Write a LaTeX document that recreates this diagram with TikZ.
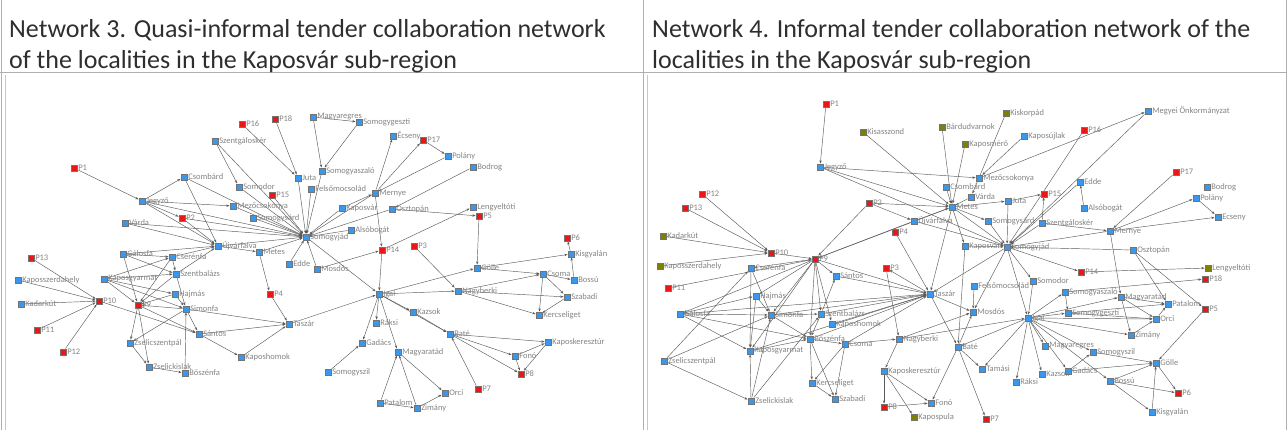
\documentclass[tikz,border=0pt]{standalone}
\usepackage{fontspec}
\setmainfont{Carlito}
\usetikzlibrary{arrows.meta}
\definecolor{nblue}{RGB}{58,152,236}
\definecolor{nred}{RGB}{236,22,22}
\definecolor{nolive}{RGB}{128,128,0}
\definecolor{edgec}{RGB}{90,90,90}
\definecolor{labc}{RGB}{132,132,132}
\definecolor{tablec}{RGB}{175,175,175}
\definecolor{framec}{RGB}{200,200,200}
\pgfdeclarelayer{edges}
\pgfsetlayers{edges,main}
\tikzset{
  nd/.style={rectangle, minimum size=6.5pt, inner sep=0pt, draw=black!55, line width=0.4pt},
  bn/.style={nd, fill=nblue},
  rn/.style={nd, fill=nred},
  on/.style={nd, fill=nolive},
  lbl/.style={font=\fontsize{8.5}{9}\selectfont, text=labc, inner sep=0.6pt, anchor=west},
  edge/.style={draw=edgec, line width=0.45pt, -{Stealth[length=3.2pt,width=2.4pt]}},
  hdr/.style={font=\fontsize{26}{28}\selectfont, text=black!82, inner sep=0pt, anchor=base west},
  tline/.style={draw=tablec, line width=1pt},
  fline/.style={draw=framec, line width=1.5pt}
}
\newcommand\gnode[5]{\node[#2] (#1) at (#3,#4) {}; \node[lbl] (#1-t) at (#1.east) {#5};}
\begin{document}
\begin{tikzpicture}[x=1pt,y=-1pt]
\useasboundingbox (0,0) rectangle (1287,430);
% table
\draw[tline] (0,73) -- (1287,73);
\draw[tline] (1,0) -- (1,430);
\draw[tline] (643,0) -- (643,430);
\draw[tline] (1286,0) -- (1286,430);
\draw[fline] (5.5,75) -- (5.5,430);
\draw[fline] (647.5,75) -- (647.5,430);
\node[hdr] (h3a) at (9,38) {Network 3. Quasi-informal tender collaboration network};
\node[hdr] (h3b) at (9,69) {of the localities in the Kaposvár sub-region};
\node[hdr] (h4a) at (652,38) {Network 4. Informal tender collaboration network of the};
\node[hdr] (h4b) at (652,69) {localities in the Kaposvár sub-region};

% ---------- Network 3 ----------
\gnode{aP1}{rn}{74}{168}{P1}
\gnode{aJeg}{bn}{142}{201}{Jegyző}
\gnode{aCsom}{bn}{184}{177}{Csombárd}
\gnode{aP2}{rn}{182}{218}{P2}
\gnode{aVarda}{bn}{125}{223}{Várda}
\gnode{aP16}{rn}{242}{124}{P16}
\gnode{aP18}{rn}{275}{119}{P18}
\gnode{aMagy}{bn}{313}{117}{Magyaregres}
\gnode{aSgesz}{bn}{359}{122}{Somogygeszti}
\gnode{aSzg}{bn}{215}{141}{Szentgáloskér}
\gnode{aEcs}{bn}{393}{136}{Écseny}
\gnode{aP17}{rn}{423}{140}{P17}
\gnode{aSasz}{bn}{322}{171}{Somogyaszaló}
\gnode{aJuta}{bn}{298}{178}{Juta}
\gnode{aSomo}{bn}{239}{187}{Somodor}
\gnode{aP15}{rn}{272}{195}{P15}
\gnode{aFelso}{bn}{311}{189}{Felsőmocsolád}
\gnode{aMern}{bn}{375}{193}{Mernye}
\gnode{aMezo}{bn}{233}{206}{Mezőcsokonya}
\gnode{aKv}{bn}{342}{208}{Kaposvár}
\gnode{aOszt}{bn}{392}{209}{Osztopán}
\gnode{aSsard}{bn}{253}{218}{Somogysárd}
\gnode{aAlso}{bn}{351}{230}{Alsóbogát}
\gnode{aSjad}{bn}{306}{237}{Somogyjád}
\gnode{aUjv}{bn}{218}{246}{Újvárfalva}
\gnode{aMetes}{bn}{259}{252}{Metes}
\gnode{aP14}{rn}{382}{250}{P14}
\gnode{aP3}{rn}{414}{246}{P3}
\gnode{aPol}{bn}{448}{156}{Polány}
\gnode{aBod}{bn}{473}{167}{Bodrog}
\gnode{aLeng}{bn}{473}{207}{Lengyeltóti}
\gnode{aP5}{rn}{479}{216}{P5}
\gnode{aP6}{rn}{567}{238}{P6}
\gnode{aKisg}{bn}{571}{254}{Kisgyalán}
\gnode{aP13}{rn}{31}{258}{P13}
\gnode{aKszd}{bn}{18}{280}{Kaposszerdahely}
\gnode{aKadk}{bn}{21}{304}{Kadarkút}
\gnode{aP11}{rn}{37}{330}{P11}
\gnode{aP12}{rn}{63}{352}{P12}
\gnode{aP10}{rn}{99}{301}{P10}
\gnode{aGal}{bn}{123}{254}{Gálosfa}
\gnode{aCser}{bn}{172}{257}{Cserénfa}
\gnode{aKgy}{bn}{104}{279}{Kaposgyarmat}
\gnode{aSzb}{bn}{176}{274}{Szentbalázs}
\gnode{aHajm}{bn}{175}{294}{Hajmás}
\gnode{aP9}{rn}{138}{305}{P9}
\gnode{aSimf}{bn}{186}{309}{Simonfa}
\gnode{aSant}{bn}{199}{334}{Sántos}
\gnode{aZszp}{bn}{130}{343}{Zselicszentpál}
\gnode{aZsk}{bn}{149}{367}{Zselickislak}
\gnode{aBosz}{bn}{185}{373}{Bőszénfa}
\gnode{aEdde}{bn}{289}{264}{Edde}
\gnode{aMosd}{bn}{317}{269}{Mosdós}
\gnode{aP4}{rn}{270}{294}{P4}
\gnode{aTasz}{bn}{289}{324}{Taszár}
\gnode{aKhom}{bn}{241}{357}{Kaposhomok}
\gnode{aIgal}{bn}{379}{294}{Igal}
\gnode{aKazs}{bn}{413}{312}{Kazsok}
\gnode{aRaksi}{bn}{376}{323}{Ráksi}
\gnode{aGad}{bn}{362}{343}{Gadács}
\gnode{aSszil}{bn}{328}{372}{Somogyszil}
\gnode{aMatad}{bn}{398}{352}{Magyaratád}
\gnode{aPatal}{bn}{380}{403}{Patalom}
\gnode{aZim}{bn}{417}{408}{Zimány}
\gnode{aGolle}{bn}{477}{268}{Gölle}
\gnode{aCsoma}{bn}{543}{274}{Csoma}
\gnode{aBossu}{bn}{574}{280}{Bossú}
\gnode{aNagyb}{bn}{458}{291}{Nagyberki}
\gnode{aSzab}{bn}{567}{297}{Szabadi}
\gnode{aKerc}{bn}{539}{315}{Kercseliget}
\gnode{aBate}{bn}{450}{334}{Baté}
\gnode{aKker}{bn}{548}{342}{Kaposkeresztúr}
\gnode{aFono}{bn}{515}{356}{Fonó}
\gnode{aP8}{rn}{521}{374}{P8}
\gnode{aP7}{rn}{478}{389}{P7}
\gnode{aOrci}{bn}{445}{393}{Orci}

% ---------- Network 4 ----------
\gnode{bP1}{rn}{826}{104}{P1}
\gnode{bJeg}{bn}{820}{167}{Jegyző}
\gnode{bP12}{rn}{702}{194}{P12}
\gnode{bP13}{rn}{685}{208}{P13}
\gnode{bKadk}{on}{663}{236}{Kadarkút}
\gnode{bP10}{rn}{771}{253}{P10}
\gnode{bKisa}{on}{863}{132}{Kisasszond}
\gnode{bBard}{on}{942}{127}{Bárdudvarnok}
\gnode{bKisk}{on}{1006}{113}{Kiskorpád}
\gnode{bKmer}{on}{965}{144}{Kaposmérő}
\gnode{bKujl}{bn}{1024}{136}{Kaposújlak}
\gnode{bMezo}{bn}{979}{178}{Mezőcsokonya}
\gnode{bCsom}{bn}{946}{187}{Csombárd}
\gnode{bVarda}{bn}{971}{197}{Várda}
\gnode{bMetes}{bn}{952}{207}{Metes}
\gnode{bJuta}{bn}{1008}{201}{Juta}
\gnode{bP15}{rn}{1044}{194}{P15}
\gnode{bP2}{rn}{869}{203}{P2}
\gnode{bUjv}{bn}{914}{221}{Újvárfalva}
\gnode{bSsard}{bn}{988}{221}{Somogysárd}
\gnode{bSzg}{bn}{1042}{223}{Szentgáloskér}
\gnode{bP4}{rn}{895}{232}{P4}
\gnode{bKv}{bn}{965}{246}{Kaposvár}
\gnode{bSjad}{bn}{1007}{247}{Somogyjád}
\gnode{bMegy}{bn}{1148}{111}{Megyei Önkormányzat}
\gnode{bP16}{rn}{1084}{130}{P16}
\gnode{bEdde}{bn}{1080}{182}{Edde}
\gnode{bAlso}{bn}{1084}{208}{Alsóbogát}
\gnode{bP17}{rn}{1176}{172}{P17}
\gnode{bBod}{bn}{1207}{187}{Bodrog}
\gnode{bPol}{bn}{1196}{198}{Polány}
\gnode{bEcs}{bn}{1218}{217}{Ecseny}
\gnode{bMern}{bn}{1110}{231}{Mernye}
\gnode{bOszt}{bn}{1133}{250}{Osztopán}
\gnode{bP9}{rn}{815}{259}{P9}
\gnode{bKszd}{on}{660}{266}{Kaposszerdahely}
\gnode{bCser}{bn}{751}{268}{Cserénfa}
\gnode{bP11}{rn}{668}{288}{P11}
\gnode{bSant}{bn}{836}{276}{Sántos}
\gnode{bHajm}{bn}{756}{296}{Hajmás}
\gnode{bGal}{bn}{680}{314}{Gálosfa}
\gnode{bSimf}{bn}{771}{315}{Simonfa}
\gnode{bSzb}{bn}{821}{314}{Szentbalázs}
\gnode{bKhom}{bn}{832}{324}{Kaposhomok}
\gnode{bBosz}{bn}{810}{339}{Bőszénfa}
\gnode{bCsoma}{bn}{845}{344}{Csoma}
\gnode{bKgy}{bn}{750}{351}{Kaposgyarmat}
\gnode{bZszp}{bn}{664}{361}{Zselicszentpál}
\gnode{bKerc}{bn}{812}{383}{Kercseliget}
\gnode{bZsk}{bn}{751}{401}{Zselickislak}
\gnode{bSzab}{bn}{835}{399}{Szabadi}
\gnode{bP3}{rn}{886}{268}{P3}
\gnode{bTasz}{bn}{930}{294}{Taszár}
\gnode{bFelso}{bn}{974}{286}{Felsőmocsolád}
\gnode{bSomo}{bn}{1033}{281}{Somodor}
\gnode{bMosd}{bn}{973}{312}{Mosdós}
\gnode{bIgal}{bn}{1028}{318}{Igal}
\gnode{bNagyb}{bn}{899}{339}{Nagyberki}
\gnode{bBate}{bn}{958}{347}{Baté}
\gnode{bMagy}{bn}{1045}{346}{Magyaregres}
\gnode{bKker}{bn}{884}{371}{Kaposkeresztúr}
\gnode{bTam}{bn}{982}{369}{Tamási}
\gnode{bKazs}{bn}{1042}{374}{Kazsok}
\gnode{bRaksi}{bn}{1016}{382}{Ráksi}
\gnode{bP8}{rn}{884}{407}{P8}
\gnode{bFono}{bn}{931}{403}{Fonó}
\gnode{bKpula}{on}{914}{417}{Kapospula}
\gnode{bP7}{rn}{986}{419}{P7}
\gnode{bP14}{rn}{1081}{272}{P14}
\gnode{bLeng}{on}{1208}{268}{Lengyeltóti}
\gnode{bP18}{rn}{1205}{279}{P18}
\gnode{bSasz}{bn}{1065}{292}{Somogyaszaló}
\gnode{bMatad}{bn}{1121}{297}{Magyaratád}
\gnode{bPatal}{bn}{1168}{304}{Patalom}
\gnode{bSgesz}{bn}{1068}{313}{Somogygeszti}
\gnode{bOrci}{bn}{1156}{319}{Orci}
\gnode{bP5}{rn}{1205}{309}{P5}
\gnode{bZim}{bn}{1131}{335}{Zimány}
\gnode{bSszil}{bn}{1093}{352}{Somogyszil}
\gnode{bGad}{bn}{1068}{371}{Gadács}
\gnode{bGolle}{bn}{1156}{363}{Gölle}
\gnode{bBossu}{bn}{1110}{381}{Bossú}
\gnode{bP6}{rn}{1178}{393}{P6}
\gnode{bKisg}{bn}{1152}{412}{Kisgyalán}

\begin{pgfonlayer}{edges}
\foreach \s/\t in {aP1/aJeg, aJeg/aCsom, aJeg/aP2, aJeg/aUjv, aJeg/aSjad, aJeg/aMezo, aCsom/aSjad, aCsom/aUjv,
  aP2/aUjv, aP2/aSjad, aVarda/aUjv, aVarda/aSjad, aSzg/aSomo, aSzg/aSjad, aP16/aJuta, aP18/aJuta,
  aMagy/aSasz, aMagy/aSgesz, aSgesz/aSasz, aSasz/aSjad, aJuta/aSjad, aSomo/aSjad, aP15/aSjad,
  aFelso/aSjad, aMezo/aSjad, aSsard/aSjad, aKv/aSjad, aAlso/aSjad, aMern/aSjad, aOszt/aSjad,
  aMern/aEcs, aMern/aP17, aP17/aPol, aPol/aMern, aBod/aOszt, aOszt/aP5, aP14/aLeng, aKv/aMern, aMern/aP14,
  aMetes/aSjad, aUjv/aSjad, aUjv/aMetes, aEdde/aSjad, aMosd/aSjad, aMosd/aP14, aP14/aIgal, aSjad/aIgal,
  aP5/aGolle, aP3/aNagyb, aMetes/aP4, aP4/aTasz, aKhom/aTasz, aSimf/aTasz, aSant/aTasz, aSant/aKhom,
  aTasz/aIgal, aIgal/aKazs, aIgal/aRaksi, aIgal/aGad, aSszil/aGad, aIgal/aMatad, aPatal/aMatad, aZim/aMatad,
  aPatal/aZim, aMatad/aOrci, aZim/aOrci, aIgal/aGolle, aIgal/aNagyb, aKazs/aBate, aIgal/aBate,
  aBate/aKker, aBate/aFono, aBate/aP8, aP7/aBate, aFono/aP8, aKker/aP8, aFono/aKker,
  aGolle/aKisg, aGolle/aCsoma, aKisg/aP6, aBossu/aKisg, aCsoma/aBossu, aCsoma/aKerc, aCsoma/aSzab,
  aSzab/aKerc, aNagyb/aSzab, aNagyb/aKerc, aNagyb/aCsoma,
  aP13/aP10, aKszd/aP10, aKadk/aP10, aP11/aP10, aP12/aP10, aP10/aSant,
  aGal/aCser, aGal/aSzb, aGal/aP9, aKgy/aSzb, aKgy/aHajm, aKgy/aSimf, aKgy/aP9, aCser/aP9, aCser/aSzb,
  aSzb/aP9, aHajm/aP9, aSimf/aP9, aSzb/aSimf, aHajm/aSimf, aP9/aZszp, aP9/aZsk, aZszp/aZsk, aZsk/aBosz,
  aBosz/aSimf, aSimf/aZszp, aP9/aSant, aSimf/aSant, aCser/aUjv, aSzb/aUjv, aGal/aUjv, aKgy/aCser}
  \draw[edge] (\s) -- (\t);
\foreach \s/\t in {bP1/bJeg, bJeg/bMetes, bJeg/bSjad, bJeg/bMezo, bP12/bP10, bP13/bP10, bKadk/bP10, bKszd/bP10,
  bP11/bP9, bP10/bP9, bKisa/bMetes, bBard/bMetes, bKmer/bMetes, bKisk/bVarda, bKujl/bMezo, bMezo/bMegy,
  bCsom/bMetes, bVarda/bMetes, bP2/bMetes, bP2/bUjv, bUjv/bMetes, bMetes/bJuta, bJuta/bP15, bSzg/bP15,
  bMetes/bSsard, bSsard/bSjad, bKv/bSjad, bMetes/bSjad, bJuta/bSjad, bSzg/bSjad, bMetes/bKv, bUjv/bSjad,
  bP4/bTasz, bP2/bP9, bUjv/bP9, bMetes/bTasz, bMetes/bP9, bP16/bSjad, bMegy/bSjad, bEdde/bSjad, bAlso/bEdde,
  bMern/bSjad, bP17/bMern, bMern/bPol, bMern/bEcs, bPol/bEcs, bOszt/bSjad, bSzg/bMern, bSjad/bP14,
  bP14/bLeng, bSasz/bP18, bOszt/bP5, bMern/bMatad, bOszt/bPatal, bSjad/bIgal, bSjad/bTasz, bSjad/bSomo,
  bSjad/bMosd, bKv/bBate, bSomo/bIgal, bFelso/bMosd, bTasz/bMosd, bTasz/bBate, bTasz/bP3, bP3/bNagyb,
  bNagyb/bKker, bNagyb/bMosd, bNagyb/bIgal, bCsoma/bNagyb, bKker/bP8, bKker/bFono, bKker/bKpula, bP8/bFono,
  bBate/bFono, bBate/bP7, bBate/bTam, bBate/bMosd, bIgal/bBate, bIgal/bRaksi, bIgal/bKazs, bIgal/bMagy,
  bIgal/bTam, bIgal/bSasz, bIgal/bSgesz, bIgal/bMatad, bIgal/bZim, bIgal/bOrci, bIgal/bGad, bIgal/bSszil,
  bIgal/bBossu, bMatad/bPatal, bMatad/bOrci, bMatad/bZim, bZim/bOrci, bSgesz/bPatal, bSgesz/bOrci,
  bOrci/bPatal, bP5/bGolle, bSszil/bGolle, bGad/bGolle, bBossu/bGolle, bKisg/bGolle, bGolle/bP6, bBossu/bP6,
  bBossu/bKisg, bGad/bSszil, bSasz/bSgesz,
  bP9/bCser, bP9/bHajm, bP9/bSimf, bP9/bSzb, bP9/bSant, bP9/bBosz, bP9/bKgy, bP9/bGal, bP9/bTasz, bP9/bKhom,
  bGal/bSimf, bGal/bBosz, bGal/bKgy, bGal/bHajm, bHajm/bSimf, bCser/bSimf, bCser/bKgy, bHajm/bKgy,
  bZszp/bSimf, bZszp/bZsk, bZszp/bCser, bZsk/bKgy, bZsk/bSimf, bZsk/bSzb, bSimf/bBosz, bSimf/bSzb,
  bKgy/bBosz, bSzb/bBosz, bSzb/bSant, bSzb/bTasz, bSant/bTasz, bKhom/bTasz, bBosz/bTasz, bBosz/bKerc,
  bBosz/bSzab, bKerc/bSzab, bCsoma/bSzab, bCsoma/bKerc, bBosz/bCsoma, bCsoma/bTasz, bSimf/bTasz,
  bGal/bTasz, bKgy/bTasz}
  \draw[edge] (\s) -- (\t);
\end{pgfonlayer}
\end{tikzpicture}
\end{document}
